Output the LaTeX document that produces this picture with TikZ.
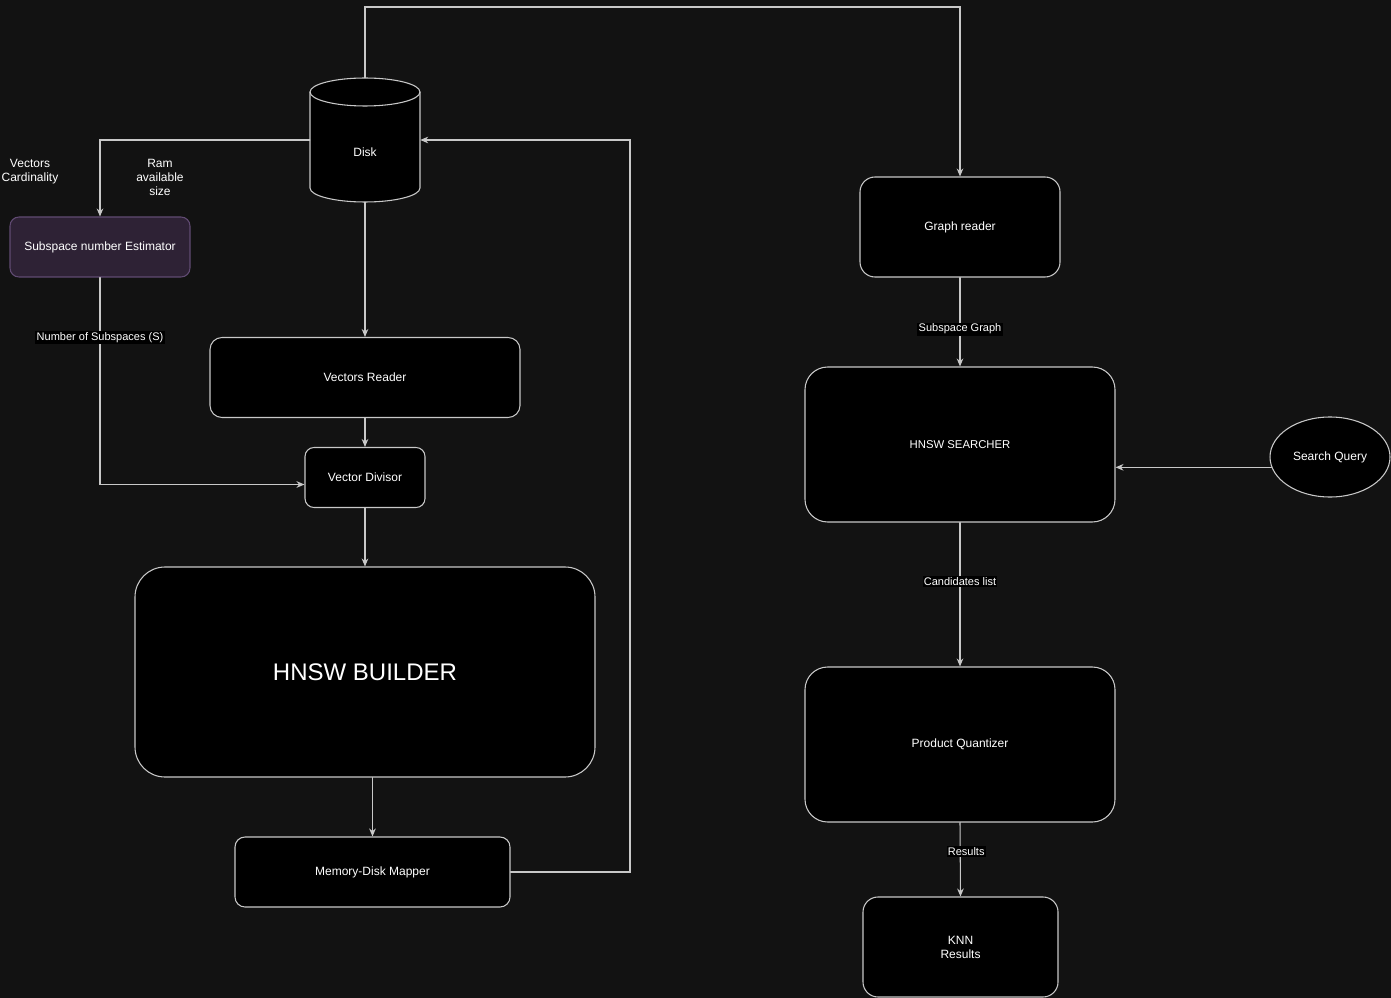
\documentclass[tikz,border=0pt]{standalone}
\usepackage{fontspec}
\setmainfont{Liberation Sans}
\usepackage{tikz}
\usetikzlibrary{arrows.meta,shapes.geometric}
\usepackage{xcolor}
\definecolor{bgdark}{RGB}{18,18,18}
\definecolor{edgegray}{RGB}{200,200,200}
\definecolor{estfill}{RGB}{46,34,53}
\definecolor{estline}{RGB}{96,74,114}

\begin{document}
\begin{tikzpicture}[x=0.75pt,y=0.75pt,>={Stealth[length=6pt,width=5pt]},font=\fontsize{9}{10.5}\selectfont,line cap=round,
  box/.style={draw=edgegray,fill=black,text=white,line width=0.8pt,align=center,inner sep=0pt},
  link/.style={draw=edgegray,line width=0.8pt,->},
  tag/.style={fill=black,text=white,font=\fontsize{8.25}{9}\selectfont,inner sep=1pt},
  plain/.style={text=white,align=center,inner sep=0pt}]
\fill[bgdark] (0,0) rectangle (1391,-998);
\useasboundingbox (0,0) rectangle (1391,-998);
\filldraw[draw=edgegray,fill=black,line width=0.8pt] (310,-92) -- (310,-188) arc[start angle=180,end angle=360,x radius=55,y radius=14] -- (420,-92) arc[start angle=0,end angle=180,x radius=55,y radius=14] -- cycle;
\draw[edgegray,line width=0.8pt] (310,-92) arc[start angle=180,end angle=360,x radius=55,y radius=14];
\node (disk) at (365,-140) [minimum width=82.5pt,minimum height=93pt,inner sep=0pt,label={[plain,yshift=-9pt]center:Disk}] {};
\node[box,fill=estfill,draw=estline,rounded corners=6.75pt,minimum width=135pt,minimum height=45pt] (est) at (100,-247) {Subspace number Estimator};
\node[box,rounded corners=9pt,minimum width=232.5pt,minimum height=60pt] (reader) at (365,-377.5) {Vectors Reader};
\node[box,rounded corners=6.75pt,minimum width=90pt,minimum height=45pt] (div) at (365,-477.5) {Vector Divisor};
\node[box,rounded corners=22.5pt,minimum width=345pt,minimum height=157.5pt,font=\fontsize{18}{20}\selectfont] (builder) at (365,-672) {HNSW BUILDER};
\node[box,rounded corners=7.5pt,minimum width=206.25pt,minimum height=52.5pt] (mapper) at (372.5,-872) {Memory-Disk Mapper};
\node[box,rounded corners=11.25pt,minimum width=150pt,minimum height=75pt] (graph) at (960,-227) {Graph reader};
\node[box,rounded corners=17pt,minimum width=232.5pt,minimum height=116.25pt,font=\fontsize{8.5}{10}\selectfont] (search) at (960,-444.5) {HNSW SEARCHER};
\node[box,rounded corners=17pt,minimum width=232.5pt,minimum height=116.25pt] (pq) at (960,-744.5) {Product Quantizer};
\node[box,rounded corners=11.25pt,minimum width=146.25pt,minimum height=75pt] (knn) at (960.5,-947) {KNN\\Results};
\node[box,ellipse,minimum width=90pt,minimum height=60pt] (query) at (1330,-457) {Search Query};
\node[plain] (card) at (30,-172) {Vectors\\Cardinality};
\node[plain] (ram) at (160,-177) {Ram\\available\\size};
\coordinate (top) at (365,-7);
\coordinate (back) at (630,-140);
\draw[link] (disk.west) -| (est.north);
\draw[link] (disk.south) -- (reader.north);
\draw[link] (reader.south) -- (div.north);
\draw[link] (est.south) |- ([yshift=-5.25pt]div.west) node[tag,pos=0.145]{Number of Subspaces (S)};
\draw[link] (div.south) -- (builder.north);
\draw[link] (builder.south -| mapper.north) -- (mapper.north);
\draw[link] (mapper.east) -| (back) -- (disk.east);
\draw[link] (disk.north) -- (top) -| (graph.north);
\draw[link] (graph.south) -- node[tag,pos=0.58]{Subspace Graph} (search.north);
\draw[link] (search.south) -- node[tag,pos=0.41]{Candidates list} (pq.north);
\draw[link] (pq.south) -- node[tag,pos=0.39,xshift=4.5pt]{Results} (knn.north);
\draw[link] (query.190) -- (query.190 -| search.east);
\end{tikzpicture}
\end{document}
